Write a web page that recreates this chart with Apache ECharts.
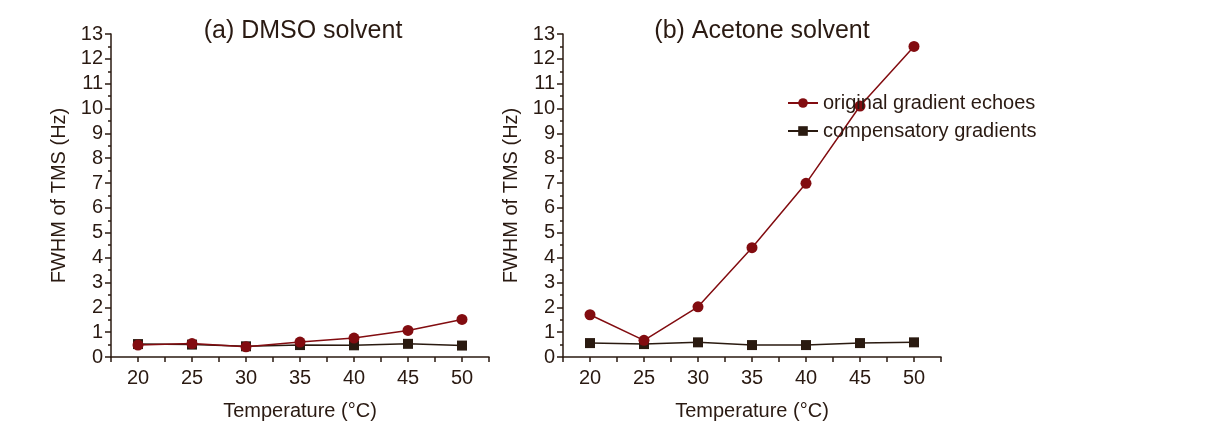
<!DOCTYPE html>
<html>
<head>
<meta charset="utf-8">
<script src="https://cdn.jsdelivr.net/npm/echarts@6/dist/echarts.min.js"></script>
<style>
  html, body { margin: 0; padding: 0; background: #fff; }
  #chart { width: 1209px; height: 426px; }
</style>
</head>
<body>
<div id="chart"></div>
<script>
// temperatures (°C)
var temps = [20, 25, 30, 35, 40, 45, 50];
// (a) DMSO solvent, FWHM (Hz)
var dmsoOriginal = [0.48, 0.54, 0.41, 0.60, 0.76, 1.07, 1.51];
var dmsoCompensatory = [0.52, 0.50, 0.43, 0.48, 0.47, 0.53, 0.46];
// (b) Acetone solvent, FWHM (Hz)
var acetoneOriginal = [1.70, 0.67, 2.02, 4.40, 6.99, 10.1, 12.5];
var acetoneCompensatory = [0.56, 0.52, 0.59, 0.48, 0.48, 0.56, 0.59];

var panelTitles = ['(a) DMSO solvent', '(b) Acetone solvent'];
var seriesNames = ['original gradient echoes', 'compensatory gradients'];

var textColor = '#2a1a12';
var redColor = '#820c10';
var darkColor = '#2a1a10';

function pairs(ys) {
  return temps.map(function (t, i) { return [t, ys[i]]; });
}

function xAxisFor(idx) {
  return {
    type: 'value', gridIndex: idx,
    min: 17.5, max: 52.5, interval: 2.5,
    name: 'Temperature (°C)', nameLocation: 'middle', nameGap: 44,
    nameTextStyle: { fontSize: 20, color: textColor, fontFamily: 'Liberation Sans' },
    axisLine: { lineStyle: { color: darkColor, width: 1.5 } },
    axisTick: { inside: false, length: 5, lineStyle: { color: darkColor, width: 1.5 } },
    axisLabel: {
      fontSize: 20, color: textColor, margin: 11, fontFamily: 'Liberation Sans',
      formatter: function (v) { return v % 5 === 0 ? String(v) : ''; }
    },
    splitLine: { show: false }
  };
}

function yAxisFor(idx) {
  return {
    type: 'value', gridIndex: idx,
    min: 0, max: 13, interval: 1,
    name: 'FWHM of TMS (Hz)', nameLocation: 'middle', nameGap: 42,
    nameTextStyle: { fontSize: 20, color: textColor, fontFamily: 'Liberation Sans' },
    axisLine: { show: true, lineStyle: { color: darkColor, width: 1.5 } },
    axisTick: { show: true, inside: false, length: 6, lineStyle: { color: darkColor, width: 1.5 } },
    minorTick: { show: true, splitNumber: 2, length: 3, lineStyle: { color: darkColor, width: 1.5 } },
    axisLabel: { fontSize: 20, color: textColor, margin: 8, fontFamily: 'Liberation Sans' },
    splitLine: { show: false }
  };
}

function lineSeries(name, idx, ys, symbol, color, size) {
  return {
    name: name, type: 'line',
    xAxisIndex: idx, yAxisIndex: idx,
    data: pairs(ys),
    symbol: symbol, symbolSize: size,
    lineStyle: { color: color, width: 1.5 },
    itemStyle: { color: color },
    z: symbol === 'circle' ? 3 : 2
  };
}

var chart = echarts.init(document.getElementById('chart'), null, { renderer: 'canvas' });
chart.setOption({
  backgroundColor: '#ffffff',
  animation: false,
  title: [
    { text: panelTitles[0], left: 298, top: 14, textAlign: 'center',
      textStyle: { fontSize: 25, fontWeight: 'normal', color: textColor, fontFamily: 'Liberation Sans' } },
    { text: panelTitles[1], left: 757, top: 14, textAlign: 'center',
      textStyle: { fontSize: 25, fontWeight: 'normal', color: textColor, fontFamily: 'Liberation Sans' } }
  ],
  legend: {
    data: seriesNames,
    orient: 'vertical',
    left: 782, top: 88,
    itemGap: 8, itemWidth: 30, itemHeight: 12,
    textStyle: { fontSize: 20, color: textColor, fontFamily: 'Liberation Sans' }
  },
  grid: [
    { left: 111, top: 34, width: 378, height: 324 },
    { left: 563, top: 34, width: 378, height: 324 }
  ],
  xAxis: [xAxisFor(0), xAxisFor(1)],
  yAxis: [yAxisFor(0), yAxisFor(1)],
  series: [
    lineSeries(seriesNames[1], 0, dmsoCompensatory, 'rect', darkColor, 10),
    lineSeries(seriesNames[0], 0, dmsoOriginal, 'circle', redColor, 11),
    lineSeries(seriesNames[1], 1, acetoneCompensatory, 'rect', darkColor, 10),
    lineSeries(seriesNames[0], 1, acetoneOriginal, 'circle', redColor, 11)
  ]
});
</script>
</body>
</html>
